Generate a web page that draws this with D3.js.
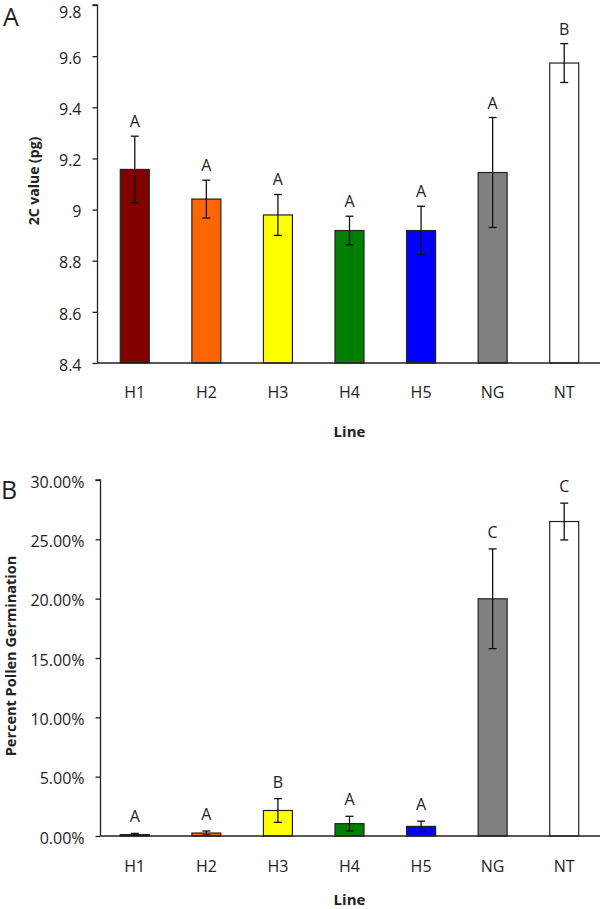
<!DOCTYPE html>
<html><head><meta charset="utf-8">
<script src="https://cdn.jsdelivr.net/npm/d3@7"></script>
<style>
body{margin:0;background:#fff;}
text{font-family:"Open Sans",sans-serif;fill:#222;}
</style></head>
<body>
<svg id="chart" width="600" height="909"></svg>
<script>
const categories = ["H1","H2","H3","H4","H5","NG","NT"];
const barColors = ["#800000","#FF6600","#FFFF00","#008000","#0000FF","#808080","#FFFFFF"];

const cValues = [9.157, 9.041, 8.979, 8.918, 8.918, 9.145, 9.573];
const cErrors = [0.130, 0.074, 0.080, 0.056, 0.095, 0.215, 0.076];
const cLetters = ["A","A","A","A","A","A","B"];
const cTicks = [8.4, 8.6, 8.8, 9.0, 9.2, 9.4, 9.6, 9.8];

const pollenValues = [0.0012, 0.0025, 0.0215, 0.0104, 0.0081, 0.1999, 0.2650];
const pollenErrors = [0.0010, 0.0017, 0.0100, 0.0062, 0.0044, 0.0420, 0.0155];
const pollenLetters = ["A","A","B","A","A","C","C"];
const pollenTicks = [0, 0.05, 0.10, 0.15, 0.20, 0.25, 0.30];

const svg = d3.select("#chart");

function panel(cfg){
  const g = svg.append("g");
  const x = d3.scaleBand().domain(categories).range([cfg.x0, cfg.x1])
    .paddingInner(0.595).paddingOuter(0.2975);
  const y = d3.scaleLinear().domain(cfg.domain).range([cfg.yBottom, cfg.yTop]);
  const data = categories.map((c,i)=>({c, v:cfg.values[i], e:cfg.errors[i], l:cfg.letters[i], col:barColors[i]}));

  // bars
  g.selectAll("rect.bar").data(data).join("rect")
    .attr("class","bar")
    .attr("x", d=>x(d.c)).attr("width", x.bandwidth())
    .attr("y", d=>y(d.v)).attr("height", d=>y(cfg.domain[0]) - y(d.v))
    .attr("fill", d=>d.col).attr("stroke","#222").attr("stroke-width",1.2);

  // error bars
  const eb = g.selectAll("g.err").data(data).join("g").attr("class","err")
    .attr("stroke","#111").attr("stroke-width",1.3);
  const cx = d=>x(d.c)+x.bandwidth()/2;
  eb.append("line").attr("x1",cx).attr("x2",cx)
    .attr("y1",d=>y(Math.max(cfg.domain[0], d.v-d.e))).attr("y2",d=>y(d.v+d.e));
  eb.append("line").attr("x1",d=>cx(d)-4).attr("x2",d=>cx(d)+4)
    .attr("y1",d=>y(d.v+d.e)).attr("y2",d=>y(d.v+d.e));
  eb.filter(d=>d.v-d.e>cfg.domain[0]).append("line").attr("x1",d=>cx(d)-4).attr("x2",d=>cx(d)+4)
    .attr("y1",d=>y(d.v-d.e)).attr("y2",d=>y(d.v-d.e));

  // letters
  g.selectAll("text.let").data(data).join("text").attr("class","let")
    .attr("x",cx).attr("y",d=>y(d.v+d.e)-cfg.letterGap)
    .attr("text-anchor","middle").style("font-size","16px").text(d=>d.l);

  // y axis
  const yAxis = d3.axisLeft(y).tickValues(cfg.ticks).tickSize(5).tickPadding(11).tickFormat(cfg.fmt);
  const ya = g.append("g").attr("transform",`translate(${cfg.axisX},0)`).call(yAxis);
  ya.select(".domain").attr("stroke","#222").attr("stroke-width",1.3).attr("d",`M-5,${cfg.yTop}H0V${cfg.yBottom}`);
  ya.selectAll(".tick line").attr("stroke","#222").attr("stroke-width",1.3);
  ya.selectAll(".tick text").attr("dy","0.45em").style("font-size","16px").style("font-family","'Open Sans',sans-serif").attr("fill","#222");
  // keep the topmost label inside the page
  ya.selectAll(".tick text").filter(d=>y(d) + 7.2 < 17).attr("y", d=>17 - 7.2 - y(d));

  // x axis
  const xAxis = d3.axisBottom(x).tickSize(0).tickPadding(cfg.xPad);
  const xa = g.append("g").attr("transform",`translate(0,${cfg.yBottom})`).call(xAxis);
  xa.select(".domain").attr("stroke","#222").attr("stroke-width",1.3).attr("d",`M${cfg.axisX},0H${cfg.x1}`);
  xa.selectAll(".tick text").style("font-size","16px").style("font-family","'Open Sans',sans-serif").attr("fill","#222");

  // axis titles
  g.append("text").attr("x",(cfg.x0+cfg.x1)/2).attr("y",cfg.lineY)
    .attr("text-anchor","middle").style("font-size","15px").style("font-weight","bold").text("Line");
  g.append("text").attr("transform",`translate(${cfg.ylabX},${cfg.ylabY}) rotate(-90)`)
    .attr("text-anchor","middle").attr("dy","0.35em").style("font-size",cfg.ylabSize).style("font-weight","bold").text(cfg.ylabel);

  // panel letter
  g.append("text").attr("x",cfg.pX).attr("y",cfg.pY).style("font-size",cfg.pSize).text(cfg.panel);
}

panel({
  x0:99, x1:600, axisX:97.5, yTop:5, yBottom:363, domain:[8.4,9.8],
  values:cValues, errors:cErrors, letters:cLetters, ticks:cTicks,
  fmt:d=>d3.format("")(+d.toFixed(1)), letterGap:9, xPad:24,
  lineY:437, ylabX:34, ylabY:181, ylabSize:"14px", ylabel:"2C value (pg)", panel:"A", pX:3, pY:26, pSize:"25px"
});

panel({
  x0:99, x1:600, axisX:100.5, yTop:480, yBottom:836, domain:[0,0.30],
  values:pollenValues, errors:pollenErrors, letters:pollenLetters, ticks:pollenTicks,
  fmt:d3.format(".2%"), letterGap:11, xPad:25,
  lineY:905, ylabX:11, ylabY:656, ylabSize:"14.5px", ylabel:"Percent Pollen Germination", panel:"B", pX:1, pY:499, pSize:"25px"
});
</script>
</body></html>
